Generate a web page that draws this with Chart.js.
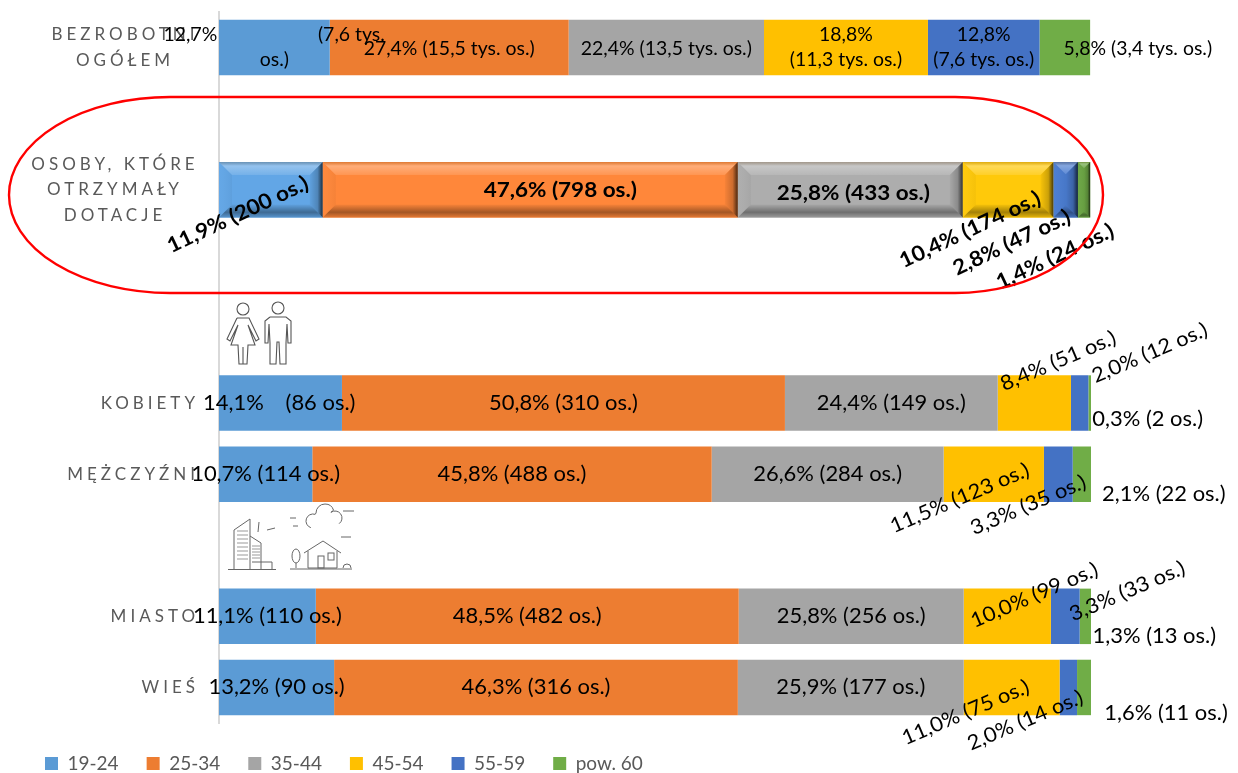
<!DOCTYPE html>
<html lang="pl">
<head>
<meta charset="utf-8">
<style>html,body{margin:0;padding:0;background:#fff}#wrap{width:1238px;height:773px;position:relative}</style>
<script src="https://cdn.jsdelivr.net/npm/chart.js@4/dist/chart.umd.min.js"></script>
</head>
<body>
<div id="wrap"><canvas id="c" width="1238" height="773"></canvas></div>
<script>
const categories = [["BEZROBOTNI","OGÓŁEM"],"",["OSOBY, KTÓRE","OTRZYMAŁY","DOTACJE"],"","","KOBIETY","MĘŻCZYŹNI","","MIASTO","WIEŚ"];
const seriesNames = ["19-24","25-34","35-44","45-54","55-59","pow. 60"];
const values19_24 = [12.7,null,11.9,null,null,14.1,10.7,null,11.1,13.2];
const values25_34 = [27.4,null,47.6,null,null,50.8,45.8,null,48.5,46.3];
const values35_44 = [22.4,null,25.8,null,null,24.4,26.6,null,25.8,25.9];
const values45_54 = [18.8,null,10.4,null,null,8.4,11.5,null,10.0,11.0];
const values55_59 = [12.8,null,2.8,null,null,2.0,3.3,null,3.3,2.0];
const valuesPow60 = [5.8,null,1.4,null,null,0.3,2.1,null,1.3,1.6];
const labels19_24 = [["12,7%","(7,6 tys.","os.)"],null,"11,9% (200 os.)",null,null,["14,1%","(86 os.)"],"10,7% (114 os.)",null,"11,1% (110 os.)","13,2% (90 os.)"];
const labels25_34 = ["27,4% (15,5 tys. os.)",null,"47,6% (798 os.)",null,null,"50,8% (310 os.)","45,8% (488 os.)",null,"48,5% (482 os.)","46,3% (316 os.)"];
const labels35_44 = ["22,4% (13,5 tys. os.)",null,"25,8% (433 os.)",null,null,"24,4% (149 os.)","26,6% (284 os.)",null,"25,8% (256 os.)","25,9% (177 os.)"];
const labels45_54 = [["18,8%","(11,3 tys. os.)"],null,"10,4% (174 os.)",null,null,"8,4% (51 os.)","11,5% (123 os.)",null,"10,0% (99 os.)","11,0% (75 os.)"];
const labels55_59 = [["12,8%","(7,6 tys. os.)"],null,"2,8% (47 os.)",null,null,"2,0% (12 os.)","3,3% (35 os.)",null,"3,3% (33 os.)","2,0% (14 os.)"];
const labelsPow60 = ["5,8% (3,4 tys. os.)",null,"1,4% (24 os.)",null,null,"0,3% (2 os.)","2,1% (22 os.)",null,"1,3% (13 os.)","1,6% (11 os.)"];

const allValues = [values19_24,values25_34,values35_44,values45_54,values55_59,valuesPow60];
const allLabels = [labels19_24,labels25_34,labels35_44,labels45_54,labels55_59,labelsPow60];
const colors = ["#5B9BD5","#ED7D31","#A5A5A5","#FFC000","#4472C4","#70AD47"];
const bevelColors = ["#62A6E6","#FF873A","#ADADAD","#FFC90A","#4A7CD0","#6BA544"];
const FONT = "Lato, Carlito, sans-serif";
const BEVEL_ROW = 2;

/* label offsets from the bar's centre: [dx, dy, rotationDeg] per piece */
const P = {
 0:[[[-84,-13,0],[77,-13,0],[0,12,0]],[[0,1,0]],[[0,1,0]],[[0,-13,0],[0,12,0]],[[0,-13,0],[0,12,0]],[[73,1,0]]],
 2:[[[-33,25,-25]],[[30,0,0]],[[3,3,0]],[[-38,40,-25]],[[-54,53,-25]],[[-29,67,-25]]],
 5:[[[-47,0,0],[40,0,0]],[[0,0,0]],[[0,0,0]],[[24,-42,-23]],[[70,-50,-23]],[[58,16,0]]],
 6:[[[0,0,0]],[[0,0,0]],[[0,0,0]],[[-34,24,-23]],[[-30,31,-23]],[[82,20,0]]],
 8:[[[0,0,0]],[[0,0,0]],[[0,0,0]],[[27,-21,-23]],[[62,-25,-23]],[[69,20,0]]],
 9:[[[0,0,0]],[[0,0,0]],[[0,0,0]],[[-46,25,-23]],[[-43,33,-23]],[[82,26,0]]]
};

const letterSpaced = {
  id:'letterSpaced',
  afterLayout(chart){ chart.legend.top += 3; chart.legend.bottom += 3; },
  beforeDraw(chart){
    const y = chart.scales.y, ctx = chart.ctx;
    if(!y._lsWrapped){
      const orig = y.drawLabels;
      y.drawLabels = function(a){ ctx.save(); ctx.letterSpacing='4px'; orig.call(this,a); ctx.restore(); };
      y._lsWrapped = true;
    }
    const items = y.getLabelItems();
    items.forEach(it=>{
      const lab = it.label;
      if(Array.isArray(lab)){
        it.options.textAlign='center';
        it.options.translation[0] = lab.length===2 ? 125 : 115;
      } else {
        it.options.textAlign='right';
        it.options.translation[0] = 199;
      }
    });
  }
};

function shape(ctx,pts,fill){
  ctx.beginPath();
  pts.forEach((p,i)=> i?ctx.lineTo(p[0],p[1]):ctx.moveTo(p[0],p[1]));
  ctx.closePath();
  ctx.fillStyle=fill; ctx.fill();
}
const bevel = {
  id:'bevel',
  afterDatasetsDraw(chart){
    const ctx=chart.ctx;
    chart.data.datasets.forEach((d,i)=>{
      const el=chart.getDatasetMeta(i).data[BEVEL_ROW];
      const x0=el.base,x1=el.x,y0=el.y-el.height/2,y1=el.y+el.height/2;
      const w=x1-x0,b=Math.min(13,w/2);
      ctx.save();
      ctx.fillStyle=bevelColors[i]; ctx.fillRect(x0,y0,w,y1-y0);
      let g=ctx.createLinearGradient(0,y0,0,y0+b);
      g.addColorStop(0,'rgba(130,90,40,.25)');g.addColorStop(.3,'rgba(255,255,255,.32)');g.addColorStop(1,'rgba(255,255,255,.12)');
      shape(ctx,[[x0,y0],[x1,y0],[x1-b,y0+b],[x0+b,y0+b]],g);
      g=ctx.createLinearGradient(0,y1-b,0,y1);
      g.addColorStop(0,'rgba(0,0,0,.03)');g.addColorStop(.6,'rgba(0,0,0,.36)');g.addColorStop(1,'rgba(0,0,0,.1)');
      shape(ctx,[[x0+b,y1-b],[x1-b,y1-b],[x1,y1],[x0,y1]],g);
      g=ctx.createLinearGradient(x0,0,x0+b,0);
      g.addColorStop(0,'rgba(255,255,255,.02)');g.addColorStop(1,'rgba(0,0,0,.04)');
      shape(ctx,[[x0,y0],[x0+b,y0+b],[x0+b,y1-b],[x0,y1]],g);
      g=ctx.createLinearGradient(x1-b,0,x1,0);
      g.addColorStop(0,'rgba(0,0,0,.03)');g.addColorStop(.6,'rgba(0,0,0,.2)');g.addColorStop(1,'rgba(0,0,0,.72)');
      shape(ctx,[[x1,y0],[x1,y1],[x1-b,y1-b],[x1-b,y0+b]],g);
      ctx.restore();
    });
  }
};

const barLabels = {
  id:'barLabels',
  afterDatasetsDraw(chart){
    const ctx=chart.ctx;
    allLabels.forEach((rows,ds)=>{
      const meta=chart.getDatasetMeta(ds);
      rows.forEach((lab,row)=>{
        if(lab===null) return;
        const el=meta.data[row];
        const cx=(el.base+el.x)/2, cy=el.y;
        const pieces=Array.isArray(lab)?lab:[lab];
        pieces.forEach((t,k)=>{
          const p=P[row][ds][k];
          ctx.save();
          ctx.translate(cx+p[0],cy+p[1]);
          ctx.rotate(p[2]*Math.PI/180);
          if(row===BEVEL_ROW){ctx.font='bold 21px '+FONT;ctx.scale(1.07,1);}
          else if(row===0){ctx.font='18.5px '+FONT;ctx.scale(1.05,1);}
          else {ctx.font='20.5px '+FONT;ctx.scale(1.07,1);}
          ctx.fillStyle='#000';
          ctx.textAlign='center';ctx.textBaseline='middle';
          ctx.fillText(t,0,0);
          ctx.restore();
        });
      });
    });
  }
};

function line(ctx,pts){ctx.beginPath();pts.forEach((p,i)=>i?ctx.lineTo(p[0],p[1]):ctx.moveTo(p[0],p[1]));ctx.stroke();}
function circle(ctx,x,y,r){ctx.beginPath();ctx.arc(x,y,r,0,Math.PI*2);ctx.stroke();}
const decor = {
  id:'decor',
  afterDraw(chart){
    const ctx=chart.ctx;
    ctx.save();
    /* red stadium round the highlighted row */
    ctx.strokeStyle='#FF0000';ctx.lineWidth=2.4;
    ctx.beginPath();
    ctx.moveTo(170,97);ctx.lineTo(955,97);
    ctx.ellipse(955,195,148,98,0,-Math.PI/2,Math.PI/2);
    ctx.lineTo(170,293);
    ctx.ellipse(170,195,161,98,0,Math.PI/2,Math.PI*1.5);
    ctx.stroke();
    /* people */
    ctx.strokeStyle='#555';ctx.lineWidth=1.1;
    circle(ctx,243,309,6); circle(ctx,278,308,6);
    line(ctx,[[237,318],[249,318],[259,339],[256,341],[248,325],[255,345],[248,345],[247,364],[243,364],[243,347],[243,364],[239,364],[238,345],[231,345],[238,325],[230,341],[227,339],[237,318]]);
    line(ctx,[[270,317],[286,317],[291,321],[291,343],[288,343],[287,324],[286,343],[286,364],[280,364],[279,342],[277,342],[276,364],[270,364],[270,343],[269,324],[268,343],[265,343],[265,321],[270,317]]);
    /* city */
    ctx.strokeStyle='#666';ctx.lineWidth=1;
    line(ctx,[[234,569],[234,530],[250,519],[250,569]]);
    line(ctx,[[250,536],[261,543],[261,569]]);
    line(ctx,[[252,562],[272,562],[272,569]]);
    line(ctx,[[228,569.5],[276,569.5]]);
    line(ctx,[[258,532],[259,522]]);line(ctx,[[267,530],[275,528]]);
    ctx.strokeStyle='#999';
    for(let yy=531;yy<560;yy+=4) line(ctx,[[237,yy],[248,yy]]);
    for(let yy=546;yy<560;yy+=3) line(ctx,[[252,yy],[260,yy]]);
    /* cloud and house */
    ctx.strokeStyle='#666';
    ctx.beginPath();ctx.arc(313,521,7,Math.PI*.6,Math.PI*1.6);ctx.arc(325,513,9,Math.PI*1,Math.PI*1.9);ctx.arc(335,518,7,-Math.PI*.7,Math.PI*.3);ctx.stroke();
    line(ctx,[[343,511],[354,511]]);line(ctx,[[290,518],[296,518]]);line(ctx,[[341,537],[351,537]]);line(ctx,[[293,526],[298,526]]);
    line(ctx,[[304,553],[323,541],[341,553]]);
    line(ctx,[[308,551],[308,568],[337,568],[337,551]]);
    ctx.strokeRect(318,556,6,12);ctx.strokeRect(328,553,6,7);
    ctx.beginPath();ctx.ellipse(296,556,4,7,0,0,Math.PI*2);ctx.stroke();
    line(ctx,[[296,563],[296,568]]);
    line(ctx,[[290,569],[352,569]]);
    ctx.beginPath();ctx.arc(347,568,4,Math.PI,0);ctx.stroke();
    ctx.restore();
  }
};

const datasets = seriesNames.map((n,i)=>({
  label:n,
  data:allValues[i],
  backgroundColor:colors[i],
  borderWidth:0,
  stack:'s'
}));

new Chart(document.getElementById('c'),{
  type:'bar',
  data:{labels:categories,datasets},
  plugins:[letterSpaced,bevel,barLabels,decor],
  options:{
    indexAxis:'y',
    responsive:false,
    animation:false,
    layout:{padding:{left:17,right:147,top:12,bottom:-7}},
    datasets:{bar:{categoryPercentage:1,barPercentage:0.78}},
    scales:{
      x:{stacked:true,display:false,min:0,max:100},
      y:{
        stacked:true,
        afterFit(s){s.width=202;s.paddingTop=0;s.paddingBottom=0;},
        grid:{display:false,drawTicks:false},
        border:{display:true,color:'#D9D9D9',width:2},
        ticks:{autoSkip:false,padding:20,color:'#595959',font:{family:FONT,size:17,lineHeight:1.5}}
      }
    },
    plugins:{
      tooltip:{enabled:false},
      legend:{
        position:'bottom',align:'start',
        labels:{boxWidth:13,boxHeight:13,padding:28,color:'#595959',font:{family:FONT,size:19}}
      }
    }
  }
});
</script>
</body>
</html>
